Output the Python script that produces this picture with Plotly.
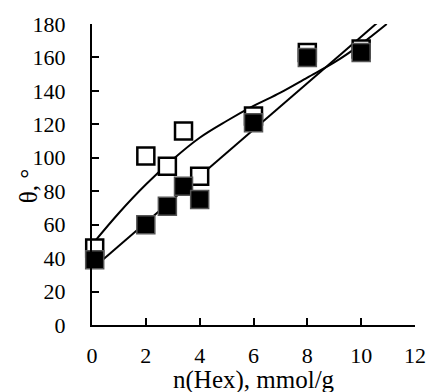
import numpy as np
import plotly.graph_objects as go

# Data
x_hex = [0.1, 2.0, 2.8, 3.4, 4.0, 6.0, 8.0, 10.0]
theta_open = [46, 101, 95, 116, 89, 125, 163, 165]
theta_filled = [39, 60, 71, 83, 75, 121, 160, 163]

# Trend curve for open squares
open_curve_x = [0.1, 1.0, 2.0, 3.0, 4.0, 5.0, 6.0, 7.0, 8.0, 9.0, 10.0, 10.95]
open_curve_y = [50, 67, 84, 99, 112, 122, 131, 139, 148, 157, 168, 180]

x_ticks = [0, 2, 4, 6, 8, 10, 12]
y_ticks = [0, 20, 40, 60, 80, 100, 120, 140, 160, 180]

# Linear trendline for filled squares
slope, intercept = np.polyfit(x_hex, theta_filled, 1)
xf = np.array([0.1, 12.0])

fig = go.Figure()
fig.add_trace(go.Scatter(x=open_curve_x, y=open_curve_y, mode="lines",
                         line=dict(color="black", width=2, shape="spline", smoothing=1.0),
                         showlegend=False))
fig.add_trace(go.Scatter(x=xf, y=slope * xf + intercept, mode="lines",
                         line=dict(color="black", width=2), showlegend=False))
fig.add_trace(go.Scatter(x=x_hex, y=theta_open, mode="markers", cliponaxis=False,
                         marker=dict(symbol="square", size=17, color="white",
                                     line=dict(color="black", width=2.5)),
                         showlegend=False))
fig.add_trace(go.Scatter(x=x_hex, y=theta_filled, mode="markers", cliponaxis=False,
                         marker=dict(symbol="square", size=18, color="black",
                                     line=dict(color="#555555", width=1.5)),
                         showlegend=False))

font_family = "Liberation Serif, Times New Roman, serif"
fig.update_layout(
    width=438, height=392,
    margin=dict(l=92, r=15, t=23, b=67),
    paper_bgcolor="white", plot_bgcolor="white",
    font=dict(family=font_family, size=22, color="black"),
    annotations=[
        dict(text="n(Hex), mmol/g", xref="paper", yref="paper", x=0.5, y=-0.182,
             xanchor="center", yanchor="middle", showarrow=False,
             font=dict(size=25)),
        dict(text="θ, °", xref="paper", yref="paper", x=-0.196, y=0.46,
             xanchor="center", yanchor="middle", showarrow=False, textangle=-90,
             font=dict(size=25)),
    ],
)
fig.update_xaxes(
    range=[0, 12], tickvals=x_ticks, ticks="inside", ticklen=7, tickwidth=2,
    tickcolor="black", showline=True, linecolor="black", linewidth=2,
    showgrid=False, zeroline=False, ticklabelstandoff=10,
)
fig.update_yaxes(
    range=[0, 180], tickvals=y_ticks, ticks="inside", ticklen=7, tickwidth=2,
    tickcolor="black", showline=True, linecolor="black", linewidth=2,
    showgrid=False, zeroline=False, ticklabelstandoff=20,
)
fig.write_html("out.html", config={"displayModeBar": False},
               post_script="document.body.style.margin='0';document.body.style.overflow='hidden';")
